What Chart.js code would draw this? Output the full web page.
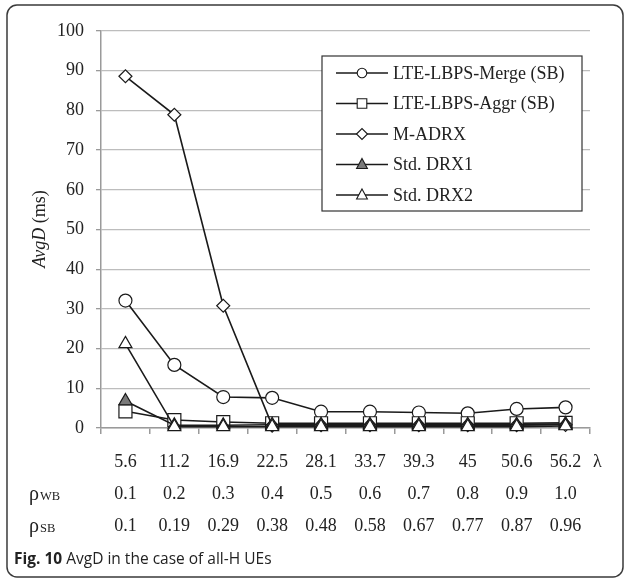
<!DOCTYPE html>
<html>
<head>
<meta charset="utf-8">
<script src="https://cdn.jsdelivr.net/npm/chart.js@4/dist/chart.umd.min.js"></script>
<style>
  html, body { margin: 0; padding: 0; background: #fff; }
  #wrap { width: 625px; height: 579px; position: relative; }
</style>
</head>
<body>
<div id="wrap"><canvas id="chart" width="625" height="579"></canvas></div>
<script>
const lambdaLabels = ['5.6', '11.2', '16.9', '22.5', '28.1', '33.7', '39.3', '45', '50.6', '56.2'];
const rhoWB = ['0.1', '0.2', '0.3', '0.4', '0.5', '0.6', '0.7', '0.8', '0.9', '1.0'];
const rhoSB = ['0.1', '0.19', '0.29', '0.38', '0.48', '0.58', '0.67', '0.77', '0.87', '0.96'];

const mergeSB = [32.1, 15.9, 7.8, 7.6, 4.1, 4.1, 3.9, 3.7, 4.8, 5.2];
const aggrSB = [4.2, 2.0, 1.5, 1.2, 1.2, 1.2, 1.2, 1.2, 1.2, 1.3];
const mAdrx = [88.6, 78.9, 30.8, 0.6, 0.7, 0.7, 0.7, 0.7, 0.7, 0.8];
const stdDrx1 = [6.8, 0.7, 0.7, 0.8, 0.8, 0.8, 0.8, 0.8, 0.8, 1.0];
const stdDrx2 = [21.2, 0.3, 0.3, 0.3, 0.3, 0.3, 0.3, 0.3, 0.3, 0.5];

const seriesNames = ['LTE-LBPS-Merge (SB)', 'LTE-LBPS-Aggr (SB)', 'M-ADRX', 'Std. DRX1', 'Std. DRX2'];

const serif = '"Liberation Serif", "DejaVu Serif", serif';
const ink = '#1a1a1a';

// x labels: three rows per category
const xLabels = lambdaLabels.map((l, i) => [l, rhoWB[i], rhoSB[i]]);

function series(label, data, style, radius, fill, order) {
    return {
        label: label,
        data: data,
        borderColor: ink,
        borderWidth: 1.6,
        pointStyle: style,
        pointRadius: radius,
        pointHoverRadius: radius,
        pointBackgroundColor: fill,
        pointBorderColor: ink,
        pointBorderWidth: 1.2,
        tension: 0,
        clip: false,
        order: order
    };
}

// legend marker shapes
function marker(ctx, style, x, y, fill) {
    ctx.save();
    ctx.beginPath();
    if (style === 'circle') {
        ctx.arc(x, y, 4.8, 0, Math.PI * 2);
    } else if (style === 'rect') {
        ctx.rect(x - 4.8, y - 4.8, 9.6, 9.6);
    } else if (style === 'rectRot') {
        ctx.moveTo(x - 5.5, y); ctx.lineTo(x, y - 5.5); ctx.lineTo(x + 5.5, y); ctx.lineTo(x, y + 5.5); ctx.closePath();
    } else {
        ctx.moveTo(x, y - 6); ctx.lineTo(x + 5.4, y + 4); ctx.lineTo(x - 5.4, y + 4); ctx.closePath();
    }
    ctx.fillStyle = fill;
    ctx.fill();
    ctx.lineWidth = 1.1;
    ctx.strokeStyle = ink;
    ctx.stroke();
    ctx.restore();
}

const extras = {
    id: 'extras',
    beforeDraw(chart) {
        const ctx = chart.ctx;
        ctx.save();
        ctx.fillStyle = '#fff';
        ctx.fillRect(0, 0, chart.width, chart.height);
        // outer figure frame
        ctx.beginPath();
        ctx.roundRect(7, 5, 616, 572, 10);
        ctx.lineWidth = 1.5;
        ctx.strokeStyle = '#3a3a3a';
        ctx.stroke();
        ctx.restore();
    },
    afterDraw(chart) {
        const ctx = chart.ctx;
        const ds = chart.data.datasets;
        ctx.save();

        // y axis title, italic AvgD + (ms)
        ctx.translate(40, 229);
        ctx.rotate(-Math.PI / 2);
        ctx.textBaseline = 'middle';
        ctx.font = 'italic 18px ' + serif;
        const w1 = ctx.measureText('AvgD').width;
        ctx.font = '18px ' + serif;
        const w2 = ctx.measureText(' (ms)').width;
        let sx = -(w1 + w2) / 2;
        ctx.fillStyle = '#222';
        ctx.font = 'italic 18px ' + serif;
        ctx.fillText('AvgD', sx, 0);
        ctx.font = '18px ' + serif;
        ctx.fillText(' (ms)', sx + w1, 0);
        ctx.setTransform(1, 0, 0, 1, 0, 0);

        // row headers under the x axis
        ctx.fillStyle = '#222';
        ctx.textBaseline = 'middle';
        ctx.font = '18px ' + serif;
        ctx.fillText('λ', 593, 462);
        [['WB', 494], ['SB', 526]].forEach(r => {
            ctx.font = '20px ' + serif;
            ctx.fillText('ρ', 29, r[1] + 1);
            const rw = ctx.measureText('ρ').width;
            ctx.font = '12.5px ' + serif;
            ctx.fillText(r[0], 29 + rw + 1, r[1] + 3);
        });

        // caption
        ctx.textBaseline = 'alphabetic';
        ctx.font = 'bold 15.5px "Open Sans", "Noto Sans", sans-serif';
        ctx.fillText('Fig. 10', 14, 564);
        const fw = ctx.measureText('Fig. 10 ').width;
        ctx.font = '15.5px "Open Sans", "Noto Sans", sans-serif';
        ctx.fillText('AvgD in the case of all-H UEs', 14 + fw, 564);

        // legend box
        ctx.fillStyle = '#fff';
        ctx.fillRect(322, 56, 260, 155);
        ctx.lineWidth = 1.2;
        ctx.strokeStyle = '#333';
        ctx.strokeRect(322, 56, 260, 155);
        ds.forEach((d, i) => {
            const y = 73 + i * 30.5;
            ctx.beginPath();
            ctx.moveTo(336, y);
            ctx.lineTo(388, y);
            ctx.lineWidth = 1.4;
            ctx.strokeStyle = ink;
            ctx.stroke();
            marker(ctx, d.pointStyle, 362, y, d.pointBackgroundColor);
            ctx.fillStyle = '#222';
            ctx.font = '18px ' + serif;
            ctx.textBaseline = 'middle';
            ctx.fillText(d.label, 393, y + 1);
        });
        ctx.restore();
    }
};

new Chart(document.getElementById('chart'), {
    type: 'line',
    data: {
        labels: xLabels,
        datasets: [
            series(seriesNames[0], mergeSB, 'circle', 6.5, '#fff', 5),
            series(seriesNames[1], aggrSB, 'rect', 9.2, '#fff', 4),
            series(seriesNames[2], mAdrx, 'rectRot', 6.5, '#fff', 3),
            series(seriesNames[3], stdDrx1, 'triangle', 7.5, '#7a7a7a', 2),
            series(seriesNames[4], stdDrx2, 'triangle', 7.5, '#fff', 1)
        ]
    },
    options: {
        responsive: false,
        animation: false,
        events: [],
        layout: { padding: { top: 31, right: 35, left: 0, bottom: 0 } },
        plugins: {
            legend: { display: false },
            tooltip: { enabled: false }
        },
        scales: {
            x: {
                offset: true,
                afterFit(scale) { scale.height = 151; },
                grid: { offset: true, drawOnChartArea: false, drawTicks: true, tickLength: 6, color: '#9a9a9a', lineWidth: 1.5 },
                border: { color: '#9a9a9a', width: 1.5 },
                ticks: {
                    autoSkip: false,
                    maxRotation: 0,
                    padding: 12,
                    color: '#222',
                    font: { family: serif, size: 18, lineHeight: 1.78 }
                }
            },
            y: {
                min: 0,
                max: 100,
                afterFit(scale) { scale.width = 101; },
                grid: { color: '#bdbdbd', lineWidth: 1.3, tickLength: 5, tickColor: '#9a9a9a' },
                border: { color: '#9a9a9a', width: 1.5 },
                ticks: {
                    stepSize: 10,
                    padding: 12,
                    color: '#222',
                    font: { family: serif, size: 18 }
                }
            }
        }
    },
    plugins: [extras]
});
</script>
</body>
</html>
